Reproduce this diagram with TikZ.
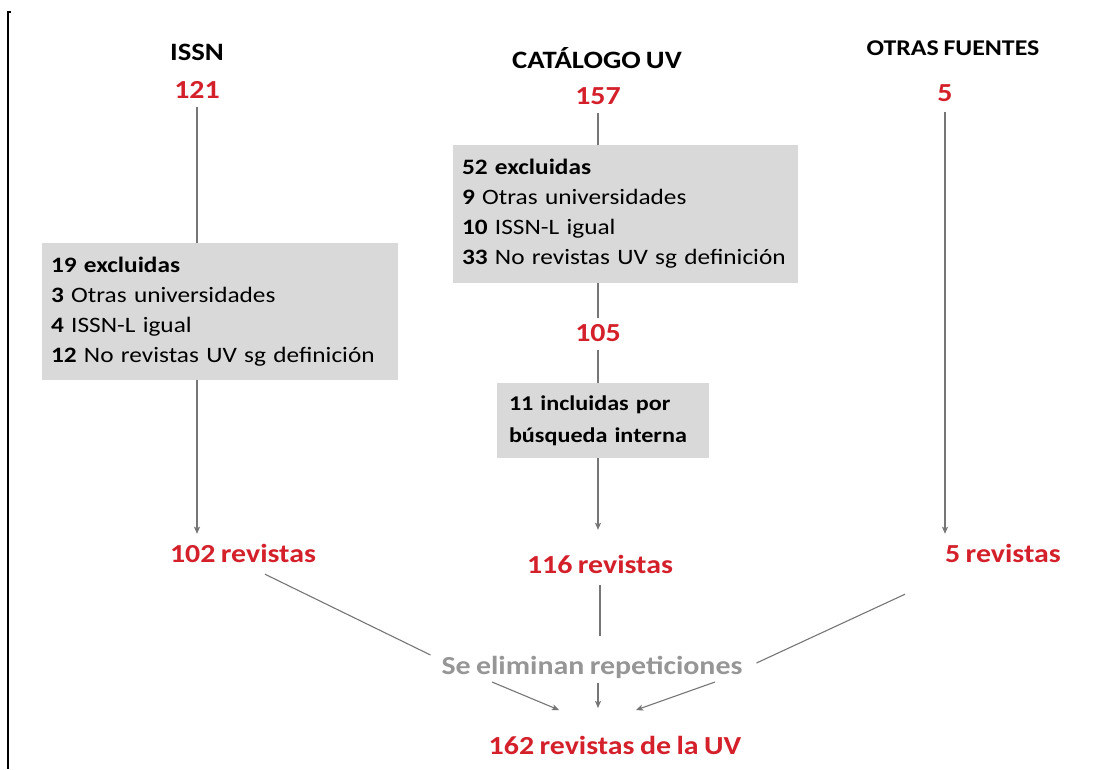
\documentclass[tikz,border=0pt]{standalone}
\usepackage{fontspec}
\setmainfont{Carlito}[FakeStretch=1.15,WordSpace=0.8]
\usepackage{tikz}
\usetikzlibrary{positioning,calc,arrows.meta}
\definecolor{myred}{RGB}{212,32,42}
\definecolor{boxgray}{RGB}{217,217,217}
\definecolor{linegray}{RGB}{118,118,118}
\definecolor{textgray}{RGB}{150,150,150}
\tikzset{
  flowpic/.style={
    x=1pt,y=-1pt
    ,inner sep=0pt
    ,outer sep=0pt
  }
  ,title/.style={font=\fontsize{25}{30}\selectfont\bfseries, text=black}
  ,count/.style={font=\fontsize{26}{30}\selectfont\bfseries, text=myred}
  ,greybox/.style={
    fill=boxgray
    ,anchor=north west
    ,align=left
    ,inner xsep=9pt
    ,font=\fontsize{22}{30}\selectfont
  }
  ,conn/.style={draw=linegray, line width=1.1pt}
  ,arr/.style={conn,-{Stealth[length=7pt,width=6pt,inset=1.5pt]}}
  ,note/.style={font=\fontsize{26}{30}\selectfont\bfseries, text=textgray}
}

\begin{document}
\begin{tikzpicture}[flowpic]
    \useasboundingbox[fill=white] (0,0) rectangle (1101,769);
    % margin rule
    \draw[black,line width=2.2pt] (11,12) -- (8,12) -- (8,769);

    % sources
    \node[title] (issn) at (197,52) {ISSN};
    \node[count] (n121) at (197,90) {121};
    \node[title] (catuv) at (597,58) {CATÁLOGO UV};
    \node[count] (n157) at (598,96) {157};
    \node[title,font=\fontsize{22.5}{30}\selectfont\bfseries] (otras) at (953,48) {OTRAS FUENTES};
    \node[count] (n5) at (945,93) {5};

    % exclusions
    \node[greybox,text width=338pt,minimum height=137pt] (exclissn) at (42,243)
      {\textbf{19 excluidas}\\ \textbf{3} Otras universidades\\ \textbf{4} ISSN-L igual\\ \textbf{12} No revistas UV sg definición};
    \node[greybox,text width=327pt,minimum height=138pt] (exclcat) at (453,145)
      {\textbf{52 excluidas}\\ \textbf{9} Otras universidades\\ \textbf{10} ISSN-L igual\\ \textbf{33} No revistas UV sg definición};
    \node[count] (n105) at (598,333) {105};
    \node[greybox,inner xsep=12pt,text width=188pt,minimum height=75pt,
      font=\fontsize{21}{32}\selectfont\bfseries] (inclcat) at (497,383)
      {\mbox{11 incluidas por}\\ \mbox{búsqueda interna}};

    % results
    \node[count] (r102) at (243,553) {102 revistas};
    \node[count] (r116) at (600,564) {116 revistas};
    \node[count] (r5) at (1003,553) {5 revistas};
    \node[note] (elim) at (592,667) {Se eliminan repeticiones};
    \node[count] (r162) at (615,745) {162 revistas de la UV};

    % connectors
    \draw[conn] (n121.south) ++(0,8) -- (n121 |- exclissn.north);
    \draw[arr] (n121 |- exclissn.south) -- ($(n121 |- r102.north)+(0,-10)$);
    \draw[conn] (n157.south) ++(0,8) -- (n157 |- exclcat.north);
    \draw[conn] (n157 |- exclcat.south) -- ($(n157 |- n105.north)+(0,-6)$);
    \draw[conn] ($(n105.south)+(0,8)$) -- (n105 |- inclcat.north);
    \draw[arr] (n105 |- inclcat.south) -- ($(n105 |- r116.north)+(0,-25)$);
    \draw[arr] (n5.south) ++(0,10) -- ($(n5 |- r5.north)+(0,-10)$);

    \draw[conn] ($(r102.south)+(22,12)$) -- ($(elim.west)+(-11,-12)$);
    \draw[conn] ($(r5.south)+(-98,32)$) -- ($(elim.east)+(14,-4)$);
    \draw[conn] ($(r116.south)+(0,12)$) -- ($(r116 |- elim.north)+(0,-20)$);

    % merge
    \coordinate (mergel) at (492,682);
    \coordinate (mergec) at (598,683);
    \coordinate (merger) at (715,682);
    \coordinate (tipl) at (559,710);
    \coordinate (tipc) at (598,708);
    \coordinate (tipr) at (636,710);
    \draw[arr] (mergel) -- (tipl);
    \draw[arr] (mergec) -- (tipc);
    \draw[arr] (merger) -- (tipr);
\end{tikzpicture}
\end{document}
